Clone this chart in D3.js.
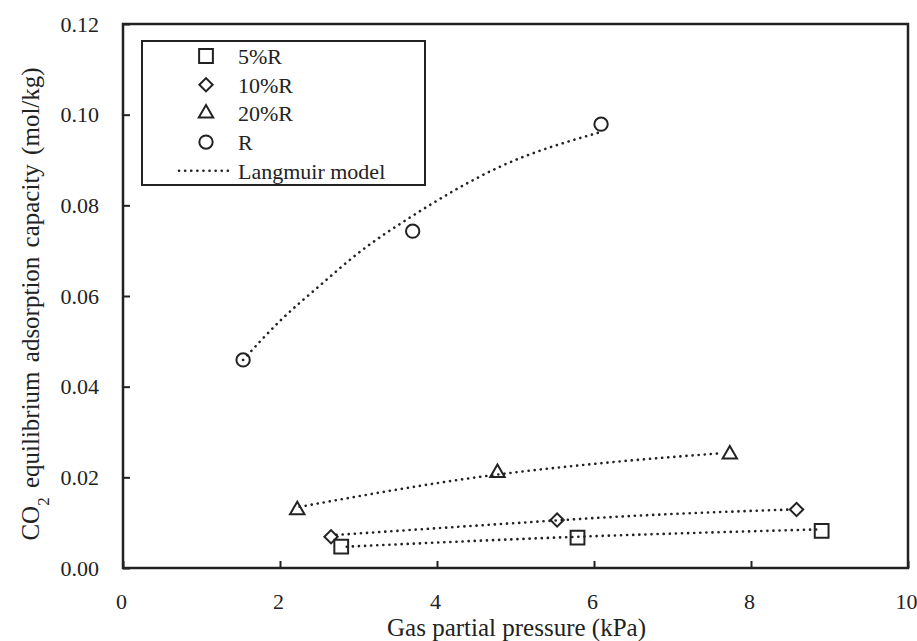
<!DOCTYPE html>
<html>
<head>
<meta charset="utf-8">
<script src="https://cdn.jsdelivr.net/npm/d3@7"></script>
<style>
  body { margin: 0; background: #fff; }
  text { font-family: "Liberation Serif", "Times New Roman", serif; fill: #222; }
</style>
</head>
<body>
<div id="chart"></div>
<script>
// measured points (kPa, mol/kg)
const seriesNames = ["5%R", "10%R", "20%R", "R"];
const pts5 = [[2.78, 0.0047], [5.79, 0.0067], [8.90, 0.0082]];
const pts10 = [[2.65, 0.0069], [5.53, 0.0106], [8.58, 0.0129]];
const pts20 = [[2.22, 0.0128], [4.77, 0.0210], [7.73, 0.0251]];
const ptsR = [[1.53, 0.0459], [3.69, 0.0743], [6.09, 0.0979]];

// Langmuir model curves
const fit5 = [[2.85, 0.0047], [5.65, 0.0068], [8.84, 0.0085]];
const fit10 = [[2.72, 0.0073], [5.44, 0.0104], [6.08, 0.0111], [8.50, 0.0129]];
const fit20 = [[2.25, 0.0135], [4.72, 0.0205], [6.08, 0.0231], [7.61, 0.0253]];
const fitR = [[1.53, 0.0459], [2.0, 0.0545], [2.5, 0.0622], [3.0, 0.0695], [3.7, 0.0778], [4.8, 0.0885], [6.05, 0.0960]];

const xTicks = [0, 2, 4, 6, 8, 10];
const yTicks = [0, 0.02, 0.04, 0.06, 0.08, 0.10, 0.12];

const W = 917, H = 641;
const pLeft = 123, pRight = 908, pTop = 24, pBottom = 568;

const svg = d3.select('#chart').append('svg')
	.attr('width', W)
	.attr('height', H);

const x = d3.scaleLinear().domain([0, 10]).range([pLeft, pRight]);
const y = d3.scaleLinear().domain([0, 0.12]).range([pBottom, pTop]);

// axes, ticks pointing inward
let gx = svg.append('g')
	.attr('transform', `translate(0,${pBottom})`)
	.call(d3.axisBottom(x).tickValues(xTicks).tickSizeInner(-7).tickSizeOuter(0).tickPadding(25).tickFormat(d3.format('d')));
let gy = svg.append('g')
	.attr('transform', `translate(${pLeft},0)`)
	.call(d3.axisLeft(y).tickValues(yTicks).tickSizeInner(-7).tickSizeOuter(0).tickPadding(24).tickFormat(d3.format('.2f')));
[gx, gy].forEach(g => {
	g.select('.domain').remove();
	g.selectAll('line').attr('stroke', '#222').attr('stroke-width', 2);
	g.selectAll('text').style('font-size', '22px').style('font-family', '"Liberation Serif", serif').attr('fill', '#222');
});
gx.selectAll('text').attr('dx', -2);

// frame
svg.append('rect')
	.attr('x', pLeft).attr('y', pTop)
	.attr('width', pRight - pLeft).attr('height', pBottom - pTop)
	.attr('fill', 'none').attr('stroke', '#222').attr('stroke-width', 2.5);

// axis titles
svg.append('text')
	.attr('x', (pLeft + pRight) / 2 + 1).attr('y', 636)
	.attr('text-anchor', 'middle')
	.style('font-size', '25px')
	.text('Gas partial pressure (kPa)');

let yt = svg.append('text')
	.attr('transform', `translate(39,${(pTop + pBottom) / 2 + 8}) rotate(-90)`)
	.attr('text-anchor', 'middle')
	.style('font-size', '25px')
	.style('word-spacing', '3px');
yt.append('tspan').text('CO');
yt.append('tspan').attr('baseline-shift', 'sub').style('font-size', '17px').text('2');
yt.append('tspan').text(' equilibrium  adsorption capacity (mol/kg)');

// model curves
const line = d3.line().x(d => x(d[0])).y(d => y(d[1])).curve(d3.curveMonotoneX);
svg.selectAll('.fit')
	.data([fit5, fit10, fit20, fitR])
	.enter().append('path')
	.attr('class', 'fit')
	.attr('d', line)
	.attr('fill', 'none')
	.attr('stroke', '#222')
	.attr('stroke-width', 2.6)
	.attr('stroke-linecap', 'round')
	.attr('stroke-dasharray', '0.1,6');

// markers
const shapes = [
	{ type: d3.symbolSquare, size: 190, rot: 0 },
	{ type: d3.symbolSquare, size: 88, rot: 45 },
	{ type: d3.symbolTriangle, size: 90, rot: 0 },
	{ type: d3.symbolCircle, size: 140, rot: 0 }
];
[pts5, pts10, pts20, ptsR].forEach((pts, i) => {
	svg.selectAll('.m' + i)
		.data(pts)
		.enter().append('path')
		.attr('class', 'm' + i)
		.attr('d', d3.symbol().type(shapes[i].type).size(shapes[i].size))
		.attr('transform', d => `translate(${x(d[0])},${y(d[1])}) rotate(${shapes[i].rot})`)
		.attr('fill', 'none')
		.attr('stroke', '#222')
		.attr('stroke-width', 2);
});

// legend
let lg = svg.append('g');
lg.append('rect')
	.attr('x', 142).attr('y', 41)
	.attr('width', 283).attr('height', 144)
	.attr('fill', '#fff').attr('stroke', '#222').attr('stroke-width', 2);
let rows = lg.selectAll('.legend')
	.data(seriesNames)
	.enter().append('g')
	.attr('class', 'legend')
	.attr('transform', (d, i) => `translate(206,${56 + i * 28.7})`);
rows.append('path')
	.attr('d', (d, i) => d3.symbol().type(shapes[i].type).size(shapes[i].size)())
	.attr('transform', (d, i) => `rotate(${shapes[i].rot})`)
	.attr('fill', 'none')
	.attr('stroke', '#222')
	.attr('stroke-width', 2);
rows.append('text')
	.attr('x', 32).attr('y', 8)
	.style('font-size', '22px')
	.text(d => d);
let lm = lg.append('g').attr('transform', `translate(206,${56 + 4 * 28.7})`);
lm.append('line')
	.attr('x1', -27).attr('x2', 23)
	.attr('stroke', '#222').attr('stroke-width', 2.6)
	.attr('stroke-linecap', 'round').attr('stroke-dasharray', '0.1,6');
lm.append('text')
	.attr('x', 32).attr('y', 8)
	.style('font-size', '22px')
	.text('Langmuir model');
</script>
</body>
</html>
